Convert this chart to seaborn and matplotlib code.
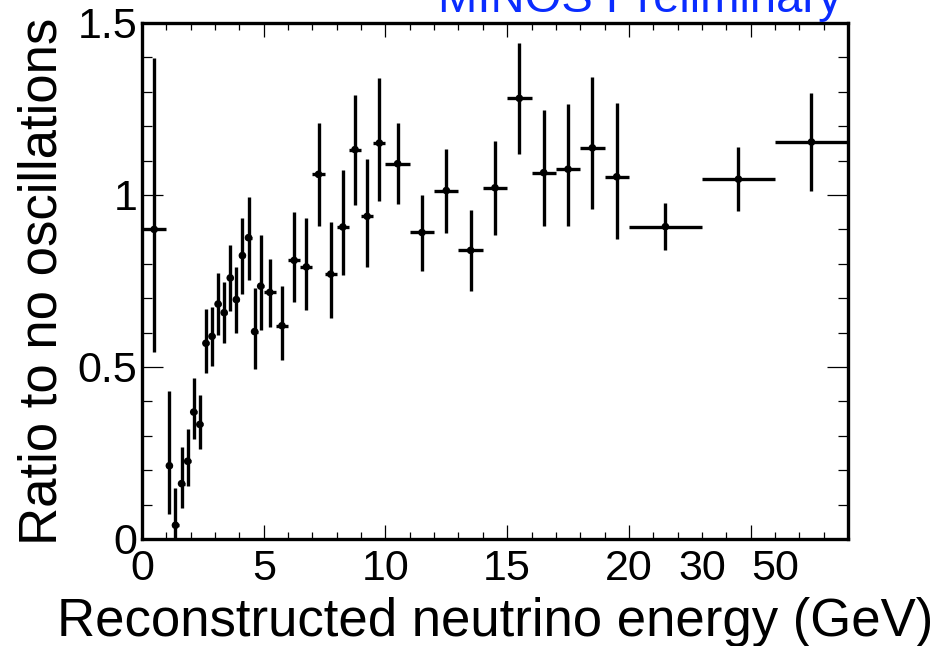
import matplotlib
matplotlib.use("Agg")
import matplotlib.pyplot as plt
from matplotlib.ticker import FixedLocator, FixedFormatter, NullFormatter
import numpy as np
import pandas as pd
import seaborn as sns

# Bin edges on the display axis (1:1 in GeV up to 20; the last three bins
# cover 20-30, 30-50 and 50+ GeV and are drawn 3 units wide each)
bin_edges = [0, 1,
             1.25, 1.5, 1.75, 2, 2.25, 2.5, 2.75, 3, 3.25, 3.5, 3.75, 4, 4.25, 4.5, 4.75, 5,
             5.5, 6, 6.5, 7, 7.5, 8, 8.5, 9, 9.5, 10,
             11, 12, 13, 14, 15, 16, 17, 18, 19, 20,
             23, 26, 29]

ratio = [0.900,
         0.213, 0.040, 0.161, 0.226, 0.369, 0.333, 0.569, 0.589,
         0.683, 0.658, 0.759, 0.696, 0.824, 0.876, 0.603, 0.735,
         0.717, 0.620, 0.810, 0.791, 1.060, 0.770, 0.907, 1.132, 0.938, 1.151,
         1.091, 0.891, 1.013, 0.839, 1.021, 1.281, 1.065, 1.075, 1.137, 1.053,
         0.908, 1.046, 1.154]

err_down = [0.357,
            0.140, 0.040, 0.072, 0.072, 0.079, 0.071, 0.086, 0.085,
            0.089, 0.089, 0.095, 0.096, 0.112, 0.122, 0.109, 0.128,
            0.100, 0.100, 0.122, 0.125, 0.150, 0.129, 0.140, 0.160, 0.148, 0.168,
            0.117, 0.111, 0.123, 0.117, 0.136, 0.162, 0.155, 0.165, 0.178, 0.181,
            0.069, 0.093, 0.142]

err_up = [0.497,
          0.217, 0.109, 0.105, 0.095, 0.099, 0.086, 0.100, 0.084,
          0.090, 0.088, 0.096, 0.096, 0.108, 0.119, 0.126, 0.149,
          0.096, 0.115, 0.140, 0.143, 0.148, 0.152, 0.166, 0.160, 0.168, 0.190,
          0.117, 0.109, 0.122, 0.117, 0.137, 0.162, 0.181, 0.190, 0.205, 0.215,
          0.068, 0.093, 0.142]

# Axis labelling: labelled major ticks, plus the two labelled positions
# (30 and 50 GeV) that sit on minor ticks of the compressed high-energy region
major_ticks = [0, 5, 10, 15, 20, 25]
major_labels = ["0", "5", "10", "15", "20", ""]
extra_label_pos = [23, 26]
extra_labels = ["30", "50"]

edges = np.asarray(bin_edges)
df = pd.DataFrame({
    "energy": 0.5 * (edges[:-1] + edges[1:]),
    "half_width": 0.5 * (edges[1:] - edges[:-1]),
    "ratio": ratio,
    "lo": err_down,
    "hi": err_up,
})

sns.set_theme(style="ticks")
plt.rcParams["font.family"] = ["Liberation Sans", "DejaVu Sans"]

fig = plt.figure(figsize=(9.41, 6.46), dpi=100)
ax = fig.add_axes([142 / 941, 1 - 539 / 646, 706 / 941, 516 / 646])

ax.errorbar(df["energy"], df["ratio"], yerr=[df["lo"], df["hi"]],
            xerr=df["half_width"], fmt="none", ecolor="black",
            elinewidth=2.4, capsize=0, zorder=2)
sns.scatterplot(data=df, x="energy", y="ratio", ax=ax, color="black",
                s=30, edgecolor="none", linewidth=0, zorder=3, legend=False)

ax.set_xlim(0, 29)
ax.set_ylim(0, 1.5)

# x axis ticks
ax.xaxis.set_major_locator(FixedLocator(major_ticks))
ax.xaxis.set_major_formatter(FixedFormatter(major_labels))
minor_x = [v for v in range(1, 29) if v % 5 != 0]
ax.xaxis.set_minor_locator(FixedLocator(minor_x))
ax.xaxis.set_minor_formatter(FixedFormatter(
    [extra_labels[extra_label_pos.index(v)] if v in extra_label_pos else "" for v in minor_x]))

# y axis ticks
ax.yaxis.set_major_locator(FixedLocator([0, 0.5, 1, 1.5]))
ax.yaxis.set_major_formatter(FixedFormatter(["0", "0.5", "1", "1.5"]))
ax.yaxis.set_minor_locator(FixedLocator([i / 10 for i in range(1, 15) if i % 5 != 0]))
ax.yaxis.set_minor_formatter(NullFormatter())

ax.tick_params(axis="x", which="both", direction="in", top=True, bottom=True,
               labelsize=31, pad=7, width=0.9, color="black", labelcolor="black")
ax.tick_params(axis="x", which="major", length=10)
ax.tick_params(axis="x", which="minor", length=5)
ax.tick_params(axis="y", which="both", direction="in", left=True, right=True,
               labelsize=31, pad=3.5, width=0.9, color="black", labelcolor="black")
ax.tick_params(axis="y", which="major", length=15)
ax.tick_params(axis="y", which="minor", length=7.5)

for side in ["left", "right", "top", "bottom"]:
    ax.spines[side].set_visible(True)
    ax.spines[side].set_linewidth(2.4)
    ax.spines[side].set_color("black")

ax.set_xlabel("Reconstructed neutrino energy (GeV)", fontsize=38, color="black")
ax.set_ylabel("Ratio to no oscillations", fontsize=38, color="black")
ax.xaxis.set_label_coords(0.5, (539 - 597) / 516)
ax.yaxis.set_label_coords((68 - 142) / 706, 0.5)

fig.text(842 / 941, 1 - 12.5 / 646, "MINOS Preliminary", ha="right",
         va="baseline", fontsize=34, color="#0a2cff")
fig.text(3.5 / 941, 1 - 635 / 646, "(b)", ha="right", va="baseline",
         fontsize=38, color="black")

fig.savefig("out.png", dpi=100, facecolor="white")
